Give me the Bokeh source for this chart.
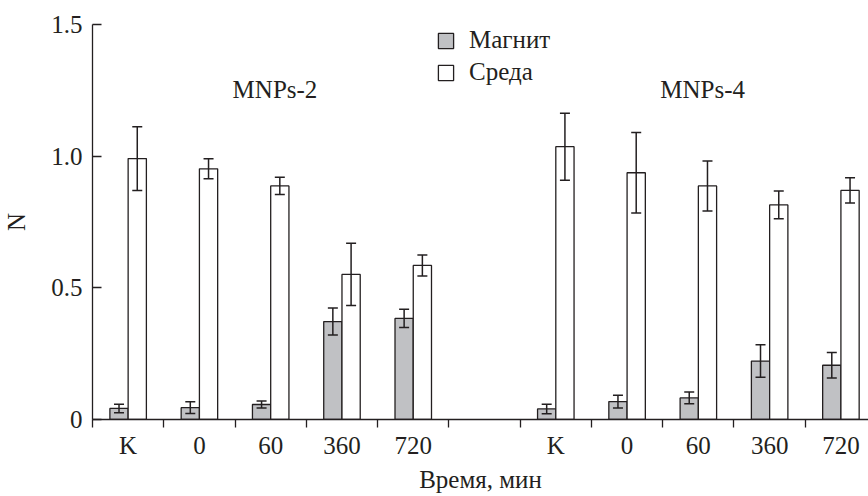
from bokeh.plotting import figure
from bokeh.models import (ColumnDataSource, Range1d, FixedTicker, Whisker, TeeHead,
                          Legend, LegendItem, Label)
from bokeh.embed import file_html
from bokeh.resources import INLINE

# ---- data ----
time_labels = ["K", "0", "60", "360", "720"]
groups = ["MNPs-2", "MNPs-4"]
series = ["Магнит", "Среда"]

magnet_2 = [0.042, 0.045, 0.057, 0.372, 0.384]
magnet_2_err = [0.016, 0.022, 0.013, 0.051, 0.035]
medium_2 = [0.991, 0.952, 0.887, 0.551, 0.585]
medium_2_err = [0.121, 0.038, 0.033, 0.118, 0.040]

magnet_4 = [0.040, 0.068, 0.082, 0.222, 0.206]
magnet_4_err = [0.018, 0.024, 0.022, 0.062, 0.048]
medium_4 = [1.036, 0.937, 0.887, 0.815, 0.870]
medium_4_err = [0.127, 0.153, 0.095, 0.053, 0.048]

y_ticks = [0, 0.5, 1.0, 1.5]
y_tick_labels = ["0", "0.5", "1.0", "1.5"]

# ---- layout helpers ----
INK = "#231f20"
GRAY = "#c0c1c4"
FONT = "Liberation Serif"
FS = "25px"
BAR_W = 0.256

# slot index for each category: group 1 -> slots 0..4, gap slot 5, group 2 -> slots 6..10
slots_2 = list(range(len(time_labels)))
slots_4 = [len(time_labels) + 1 + i for i in range(len(time_labels))]
centers = [s + 0.5 for s in slots_2 + slots_4]

def make_source(vals, errs, shift):
    xs = [c + shift for c in centers]
    return ColumnDataSource(dict(
        x=xs, top=vals,
        lower=[v - e for v, e in zip(vals, errs)],
        upper=[v + e for v, e in zip(vals, errs)],
    ))

src_mag = make_source(magnet_2 + magnet_4, magnet_2_err + magnet_4_err, -BAR_W / 2)
src_med = make_source(medium_2 + medium_4, medium_2_err + medium_4_err, BAR_W / 2)

p = figure(width=868, height=496, output_backend="svg", toolbar_location=None,
           x_range=Range1d(0, 10.887), y_range=Range1d(0, 1.5),
           min_border_left=91, min_border_right=0, min_border_top=24,
           min_border_bottom=77)
p.outline_line_color = None
p.grid.visible = False
p.background_fill_color = "white"

r_mag = p.vbar(x="x", top="top", bottom=0, width=BAR_W, source=src_mag,
               fill_color=GRAY, line_color=INK, line_width=1.3)
r_med = p.vbar(x="x", top="top", bottom=0, width=BAR_W, source=src_med,
               fill_color="white", line_color=INK, line_width=1.3)

for src in (src_mag, src_med):
    w = Whisker(base="x", lower="lower", upper="upper", source=src,
                line_color=INK, line_width=1.5, level="overlay",
                upper_head=TeeHead(size=10, line_color=INK, line_width=1.5),
                lower_head=TeeHead(size=10, line_color=INK, line_width=1.5))
    p.add_layout(w)

# ---- axes ----
xa = p.xaxis[0]
xa.ticker = FixedTicker(ticks=centers, minor_ticks=list(range(0, 12)))
xa.major_label_overrides = {c: lab for c, lab in zip(centers, time_labels + time_labels)}
xa.major_tick_in = 0
xa.major_tick_out = 0
xa.minor_tick_in = 0
xa.minor_tick_out = 8
xa.minor_tick_line_color = INK
xa.minor_tick_line_width = 1.3
xa.axis_line_color = INK
xa.axis_line_width = 1.3
xa.major_label_standoff = 4
xa.major_label_text_font = FONT
xa.major_label_text_font_size = FS
xa.major_label_text_color = INK
xa.axis_label = "Время, мин"
xa.axis_label_text_font = FONT
xa.axis_label_text_font_size = FS
xa.axis_label_text_font_style = "normal"
xa.axis_label_text_color = INK
xa.axis_label_standoff = 4

ya = p.yaxis[0]
ya.ticker = FixedTicker(ticks=y_ticks, minor_ticks=[])
ya.major_label_overrides = {t: lab for t, lab in zip(y_ticks, y_tick_labels)}
ya.major_tick_in = 9
ya.major_tick_out = 0
ya.major_tick_line_color = INK
ya.major_tick_line_width = 1.3
ya.axis_line_color = INK
ya.axis_line_width = 1.3
ya.major_label_standoff = 10
ya.major_label_text_font = FONT
ya.major_label_text_font_size = FS
ya.major_label_text_color = INK
ya.axis_label = "N"
ya.axis_label_text_font = FONT
ya.axis_label_text_font_size = FS
ya.axis_label_text_font_style = "normal"
ya.axis_label_text_color = INK
ya.axis_label_standoff = 18

# ---- group labels ----
for name, slots in zip(groups, (slots_2, slots_4)):
    gx = (slots[0] + slots[-1] + 1) / 2 + 0.06
    p.add_layout(Label(x=gx, y=1.252, text=name, text_align="center",
                       text_baseline="alphabetic", text_font=FONT,
                       text_font_size=FS, text_color=INK))

# ---- legend ----
legend = Legend(items=[LegendItem(label=series[0], renderers=[r_mag]),
                       LegendItem(label=series[1], renderers=[r_med])],
                location=(344, 333), orientation="vertical",
                border_line_color=None, background_fill_alpha=0,
                glyph_width=19, glyph_height=19, label_standoff=14,
                padding=0, margin=0, spacing=4,
                label_text_font=FONT, label_text_font_size=FS,
                label_text_color=INK)
p.add_layout(legend)

open("out.html", "w").write(file_html(p, INLINE))
